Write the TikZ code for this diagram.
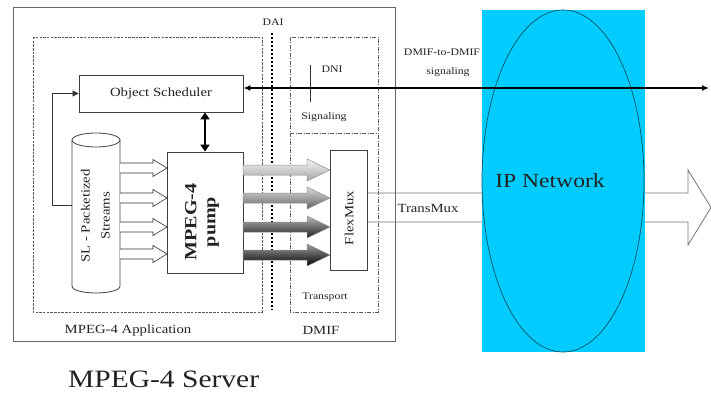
\documentclass[tikz,border=0pt]{standalone}
\usepackage{fontspec}
\setmainfont{Liberation Serif}
\usetikzlibrary{arrows.meta,calc}
\definecolor{ipcyan}{HTML}{00CCFF}
\definecolor{txtc}{HTML}{222222}
\newcommand\wide[1]{\scalebox{1.18}[1]{#1}}
\begin{document}
\begin{tikzpicture}[x=1pt,y=-1pt,
  txt/.style={inner sep=0pt, text=txtc, font=\fontsize{12.5}{15}\selectfont},
  smalltxt/.style={inner sep=0pt, text=txtc, font=\fontsize{10}{12}\selectfont},
  blockbox/.style={draw=black!75, line width=0.8pt, fill=white, inner sep=0pt},
  frame/.style={draw=black!60, line width=1pt},
  appline/.style={draw=black!65, line width=0.9pt, dash pattern=on 2.5pt off 1.2pt},
  dmifline/.style={draw=black!65, line width=0.6pt, dash pattern=on 4pt off 1.5pt on 1pt off 1.5pt},
  dailine/.style={draw=black, line width=2pt, dash pattern=on 2pt off 2pt},
  hollowarrow/.style={draw=black!80, line width=0.6pt, fill=white},
  grayarrow/.style={draw=black!45, line width=0.5pt},
]
\useasboundingbox (0,0) rectangle (711,393);

% frames
\draw[frame] (13,8) rectangle (395,341);
\draw[appline] (33,37) rectangle (262,312);
\draw[dmifline] (290,37) rectangle (378,312);
\draw[dmifline] (290,133) -- (378,133);
\draw[dailine] (272,33) -- (272,310);
\draw[line width=0.8pt, black!80] (310,65) -- (310,102);

% TransMux hollow arrow (under the network)
\draw[draw=black!55, line width=0.8pt] (367,193) -- (688,193) -- (688,170) -- (711,207.5) -- (688,245) -- (688,222) -- (367,222);

% blocks
\node[blockbox, minimum width=164pt, minimum height=37pt] (sched) at (161,93.5) {};
\node[blockbox, minimum width=76pt, minimum height=121pt] (pump) at (205,212.5) {};
\node[blockbox, minimum width=37pt, minimum height=120pt] (flex) at (348.5,210) {};

% cylinder
\draw[draw=black!75, line width=0.8pt, fill=white] (72,140) -- (72,286) .. controls (72,295.3) and (120,295.3) .. (120,286) -- (120,140);
\draw[draw=black!75, line width=0.8pt, fill=white] (96,140) ellipse [x radius=24pt, y radius=7pt];
\coordinate (cylL) at (72,205);
\coordinate (fb) at (52,205);

% hollow arrows cylinder -> pump
\foreach \yy in {168,198,227,254}
  \draw[hollowarrow] (120,\yy-5) -- (153,\yy-5) -- (153,\yy-8.5) -- (167,\yy) -- (153,\yy+8.5) -- (153,\yy+5) -- (120,\yy+5);

% gray arrows pump -> FlexMux
\foreach \yy/\tc/\bc in {170/black!4/black!35, 198/black!15/black!60, 227/black!28/black!88, 255/black!38/black}
  \draw[grayarrow, top color=\tc, bottom color=\bc] (243,\yy-5) -- (307,\yy-5) -- (307,\yy-11) -- (330,\yy) -- (307,\yy+11) -- (307,\yy+5) -- (243,\yy+5) -- cycle;

% feedback loop
\draw[black!80, line width=0.7pt, -{Triangle[length=6pt,width=6pt]}] (cylL) -- (fb) |- (sched.west);

% scheduler <-> pump
\draw[black, line width=2pt, {Triangle[length=7pt,width=9pt]}-{Triangle[length=7pt,width=9pt]}] (pump.north |- sched.south) -- (pump.north);

% IP network
\fill[ipcyan] (482,10) rectangle (645,352);
\draw[draw=black!60!ipcyan, line width=0.7pt] (563,181) ellipse [x radius=81pt, y radius=171pt];
\node[inner sep=0pt, text=txtc, font=\fontsize{20}{22}\selectfont] (ipnet) at (550,181) {\wide{IP Network}};

% signaling line
\coordinate (sigR) at (709,88);
\draw[black, line width=1.6pt, {Latex[length=7pt,width=6pt]}-{Latex[length=7pt,width=6pt]}] (sched.east |- sigR) -- (sigR);

% texts
\node[txt] (schedt) at (161,93) {\wide{Object Scheduler}};
\node[txt, rotate=90, font=\fontsize{12.5}{18}\selectfont] (slt) at (96,216) {\wide{\begin{tabular}{@{}c@{}}SL - Packetized\\[2pt]Streams\end{tabular}}};
\node[inner sep=0pt, text=txtc, rotate=90, font=\fontsize{17}{19}\selectfont\bfseries] (pumpt) at (202,222) {\wide{\begin{tabular}{@{}c@{}}MPEG-4\\pump\end{tabular}}};
\node[txt, rotate=90] (flext) at (349,218) {\wide{FlexMux}};
\node[smalltxt] (dai) at (273,22) {\wide{DAI}};
\node[smalltxt] (dni) at (332,69) {\wide{DNI}};
\node[smalltxt] (sig) at (324,117) {\wide{Signaling}};
\node[smalltxt] (trans) at (325,297) {\wide{Transport}};
\node[txt] (dmif) at (321,330) {\wide{DMIF}};
\node[txt] (appl) at (128,330) {\wide{MPEG-4 Application}};
\node[txt] (tmux) at (428,208) {\wide{TransMux}};
\node[smalltxt] (d2d1) at (442,52) {\wide{DMIF-to-DMIF}};
\node[smalltxt] (d2d2) at (448,72) {\wide{signaling}};
\node[inner sep=0pt, text=txtc, anchor=base west, font=\fontsize{25}{28}\selectfont] (server) at (68,387) {\wide{MPEG-4 Server}};
\end{tikzpicture}
\end{document}
